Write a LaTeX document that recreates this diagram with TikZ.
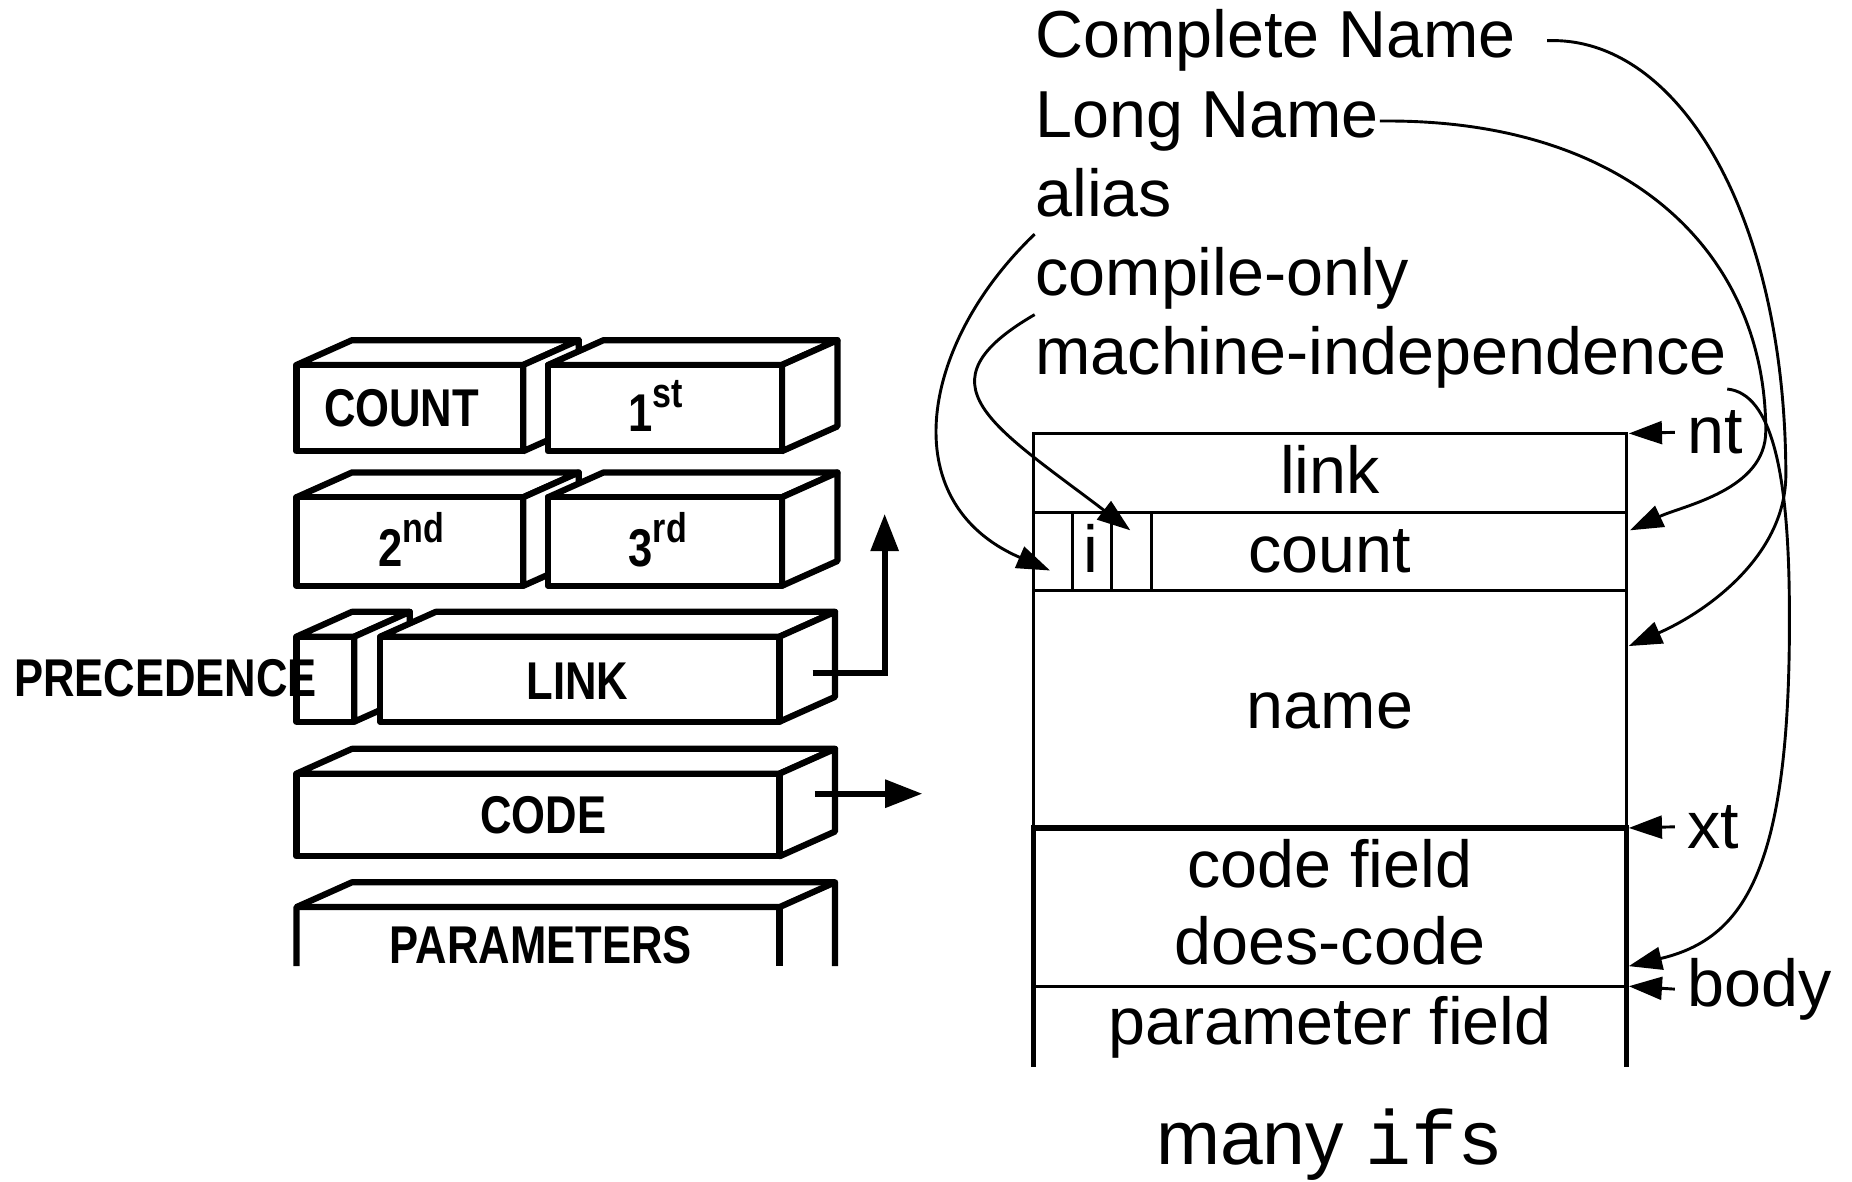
\documentclass[tikz,border=0pt]{standalone}
\usepackage{fontspec}
\setmainfont{Liberation Sans}
\setmonofont{Liberation Mono}
\newfontfamily\letterfont[FakeStretch=0.82]{Liberation Sans}
\usetikzlibrary{arrows.meta,calc}

% 3-D slab: front face (x1,y1)-(x2,y2), depth (47,-21)
\newcommand{\slab}[4]{%
  \filldraw[box] (#1,#2) -- ++(47,-21) -- (#3+47,#2-21) -- (#3,#2) -- cycle;
  \filldraw[box] (#3,#2) -- (#3+47,#2-21) -- (#3+47,#4-21) -- (#3,#4) -- cycle;
  \filldraw[box] (#1,#2) rectangle (#3,#4);
}
\newcommand{\ordinal}[2]{#1\raisebox{0.45em}{\fontsize{10}{10}\selectfont #2}}

\tikzset{
  box/.style={line width=1.5pt, line join=round, fill=white},
  tbl/.style={line width=0.75pt},
  tblthick/.style={line width=1.4pt},
  lbl/.style={anchor=base west, inner sep=0pt, font=\fontsize{16}{19}\selectfont},
  fld/.style={anchor=base, inner sep=0pt, font=\fontsize{16}{19}\selectfont},
  tag/.style={inner sep=0pt, font=\letterfont\bfseries\fontsize{12.8}{13}\selectfont},
  ref/.style={line width=0.7pt, -{Triangle[length=8pt,width=5.5pt]}},
  feed/.style={line width=1.5pt, -{Triangle[length=9pt,width=6.5pt]}}
}

\begin{document}
\begin{tikzpicture}[x=0.01cm, y=-0.01cm]
  \useasboundingbox (0,0) rectangle (1568,1000);

  % old header: stacked slabs
  \slab{251}{309}{443}{382}
  \slab{464}{309}{662}{382}
  \slab{251}{421}{443}{496}
  \slab{464}{421}{662}{496}
  \slab{251}{539}{300}{611}
  \slab{322}{539}{660}{611}
  \slab{251}{655}{660}{725}
  \draw[box, fill=none] (251,818) -- (251,768) -- (298,747) -- (707,747) -- (707,818);
  \draw[box, fill=none] (251,768) -- (660,768) -- (707,747);
  \draw[box] (660,768) -- (660,818);

  \node[tag] (count) at (340,346) {COUNT};
  \node[tag] (first) at (555,344) {\ordinal{1}{st}};
  \node[tag] (second) at (348,457) {\ordinal{2}{nd}};
  \node[tag] (third) at (557,457) {\ordinal{3}{rd}};
  \node[tag, anchor=east] (prec) at (269,574) {PRECEDENCE};
  \node[tag] (linkf) at (489,577) {LINK};
  \node[tag] (code) at (460,690) {CODE};
  \node[tag] (params) at (458,800) {PARAMETERS};

  \coordinate (linkout) at (688,570);
  \coordinate (linkup) at (749,435);
  \coordinate (codeout) at (690,672);
  \coordinate (codeto) at (781,672);
  \draw[feed] (linkout) -- (linkout -| linkup) -- (linkup);
  \draw[feed] (codeout) -- (codeto);

  % new header
  \draw[tbl] (875,701) -- (875,367) -- (1377,367) -- (1377,701);
  \draw[tbl] (875,434) -- (1377,434) (875,500) -- (1377,500);
  \foreach \x in {908,941,975} \draw[tbl] (\x,434) -- (\x,500);
  \draw[tbl] (875,835) -- (1377,835);
  \draw[tblthick] (875,903) -- (875,701) -- (1377,701) -- (1377,903);

  \node[fld] (flink) at (1126,418) {link};
  \node[fld] (fi) at (924,485) {i};
  \node[fld] (fcount) at (1126,485) {count};
  \node[fld] (fname) at (1126,617) {name};
  \node[fld] (fcode) at (1126,751) {code field};
  \node[fld] (fdoes) at (1126,817) {does-code};
  \node[fld] (fparam) at (1126,884) {parameter field};
  \node[anchor=base, inner sep=0pt, font=\fontsize{18.5}{22}\selectfont] (many) at (1126,986) {many \texttt{ifs}};

  \node[lbl] (cname) at (876,49) {Complete Name};
  \node[lbl] (lname) at (876,116) {Long Name};
  \node[lbl] (alias) at (876,183) {alias};
  \node[lbl] (conly) at (876,250) {compile-only};
  \node[lbl] (mind) at (876,317) {machine-independence};

  \node[lbl] (nt) at (1428,384) {nt};
  \node[lbl] (xt) at (1428,718) {xt};
  \node[lbl] (body) at (1428,852) {body};

  \coordinate (tnt) at (1379,367);
  \coordinate (txt) at (1379,701);
  \coordinate (tbody) at (1379,835);
  \coordinate (tcount) at (1380,449);
  \coordinate (tname) at (1379,547);
  \coordinate (tdoes) at (1379,818);
  \coordinate (tflag) at (889,483);
  \coordinate (tcomp) at (957,449);

  \draw[ref] ($(nt.west)+(-10,0)$) -- (tnt);
  \draw[ref] ($(xt.west)+(-10,0)$) -- (txt);
  \draw[ref] ($(body.west)+(-10,0)$) -- (tbody);

  \draw[ref] ($(cname.east)+(26,0)$) .. controls (1420,30) and (1511,180) .. (1512,400)
    .. controls (1513,470) and (1445,518) .. (tname);
  \draw[ref] (lname.east) .. controls (1380,100) and (1495,215) .. (1495,365)
    .. controls (1495,415) and (1425,428) .. (tcount);
  \draw[ref] (mind.south east) .. controls (1500,333) and (1515,400) .. (1515,520)
    .. controls (1516,740) and (1475,795) .. (tdoes);
  \draw[ref] ($(alias.south west)+(0,14)$) .. controls (780,290) and (755,425) .. (tflag);
  \draw[ref] ($(conly.south west)+(0,4)$) .. controls (775,325) and (840,360) .. (tcomp);
\end{tikzpicture}
\end{document}
